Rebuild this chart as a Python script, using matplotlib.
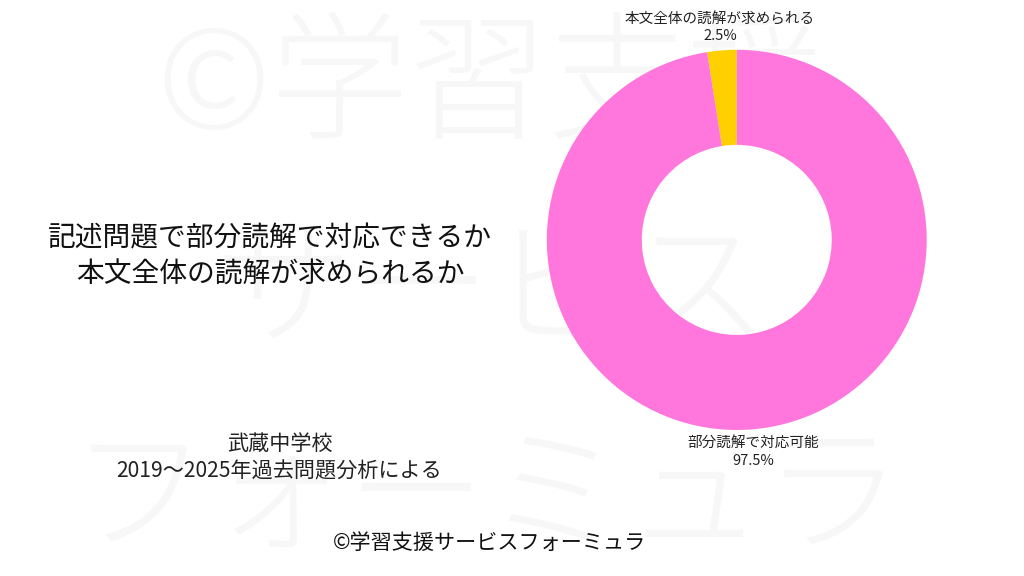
import numpy as np
import matplotlib
matplotlib.use("Agg")
import matplotlib.pyplot as plt

plt.rcParams['font.family'] = ['Noto Sans CJK JP', 'DejaVu Sans']

labels = ["本文全体の読解が求められる", "部分読解で対応可能"]
values = [2.5, 97.5]
colors = ["#FFD000", "#FF77DD"]
title_lines = ["記述問題で部分読解で対応できるか", "本文全体の読解が求められるか"]
source_lines = ["武蔵中学校", "2019〜2025年過去問題分析による"]
credit = "©学習支援サービスフォーミュラ"

fig = plt.figure(figsize=(10.24, 5.76), dpi=100)
fig.patch.set_facecolor("white")

# watermark in a background axes
bg = fig.add_axes([0, 0, 1, 1], zorder=-5)
bg.axis("off")
bg.set_xlim(0, 1)
bg.set_ylim(0, 1)
wm_kw = dict(fontsize=100, color="#f7f7f7", ha="center", va="center",
             fontweight="light")
bg.text(0.48, 0.845, "©学習支援", **wm_kw)
bg.text(0.48, 0.49, "サービス", **wm_kw)
bg.text(0.475, 0.13, "フォーミュラ", **wm_kw)

ax = fig.add_axes([0.534, 0.2535, 0.371, 0.66], zorder=2)
ax.set_facecolor("none")
wedges, _ = ax.pie(values, colors=colors, startangle=90, counterclock=True,
                   radius=1.0, wedgeprops=dict(width=0.5, edgecolor="none"))
ax.set_xlim(-1, 1)
ax.set_ylim(-1, 1)
ax.set_aspect("auto")
ax.axis("off")

total = sum(values)
start = 90.0
for lab, v in zip(labels, values):
    mid = np.deg2rad(start + 360.0 * v / total / 2)
    start += 360.0 * v / total
    ax.text(1.12 * np.cos(mid), 1.12 * np.sin(mid), f"{lab}\n{v:.1f}%",
            ha="center", va="center", fontsize=10.5, color="#222222",
            linespacing=1.25, clip_on=False)

fig.text(0.264, 0.555, "\n".join(title_lines), ha="center", va="center",
         fontsize=20, color="#111111", linespacing=1.3, zorder=3)
fig.text(0.273, 0.205, "\n".join(source_lines), ha="center", va="center",
         fontsize=15.2, color="#222222", linespacing=1.3, zorder=3)
fig.text(0.478, 0.057, credit, ha="center", va="center", fontsize=15.2,
         color="#111111", zorder=3)

fig.savefig("out.png", dpi=100, facecolor="white")
